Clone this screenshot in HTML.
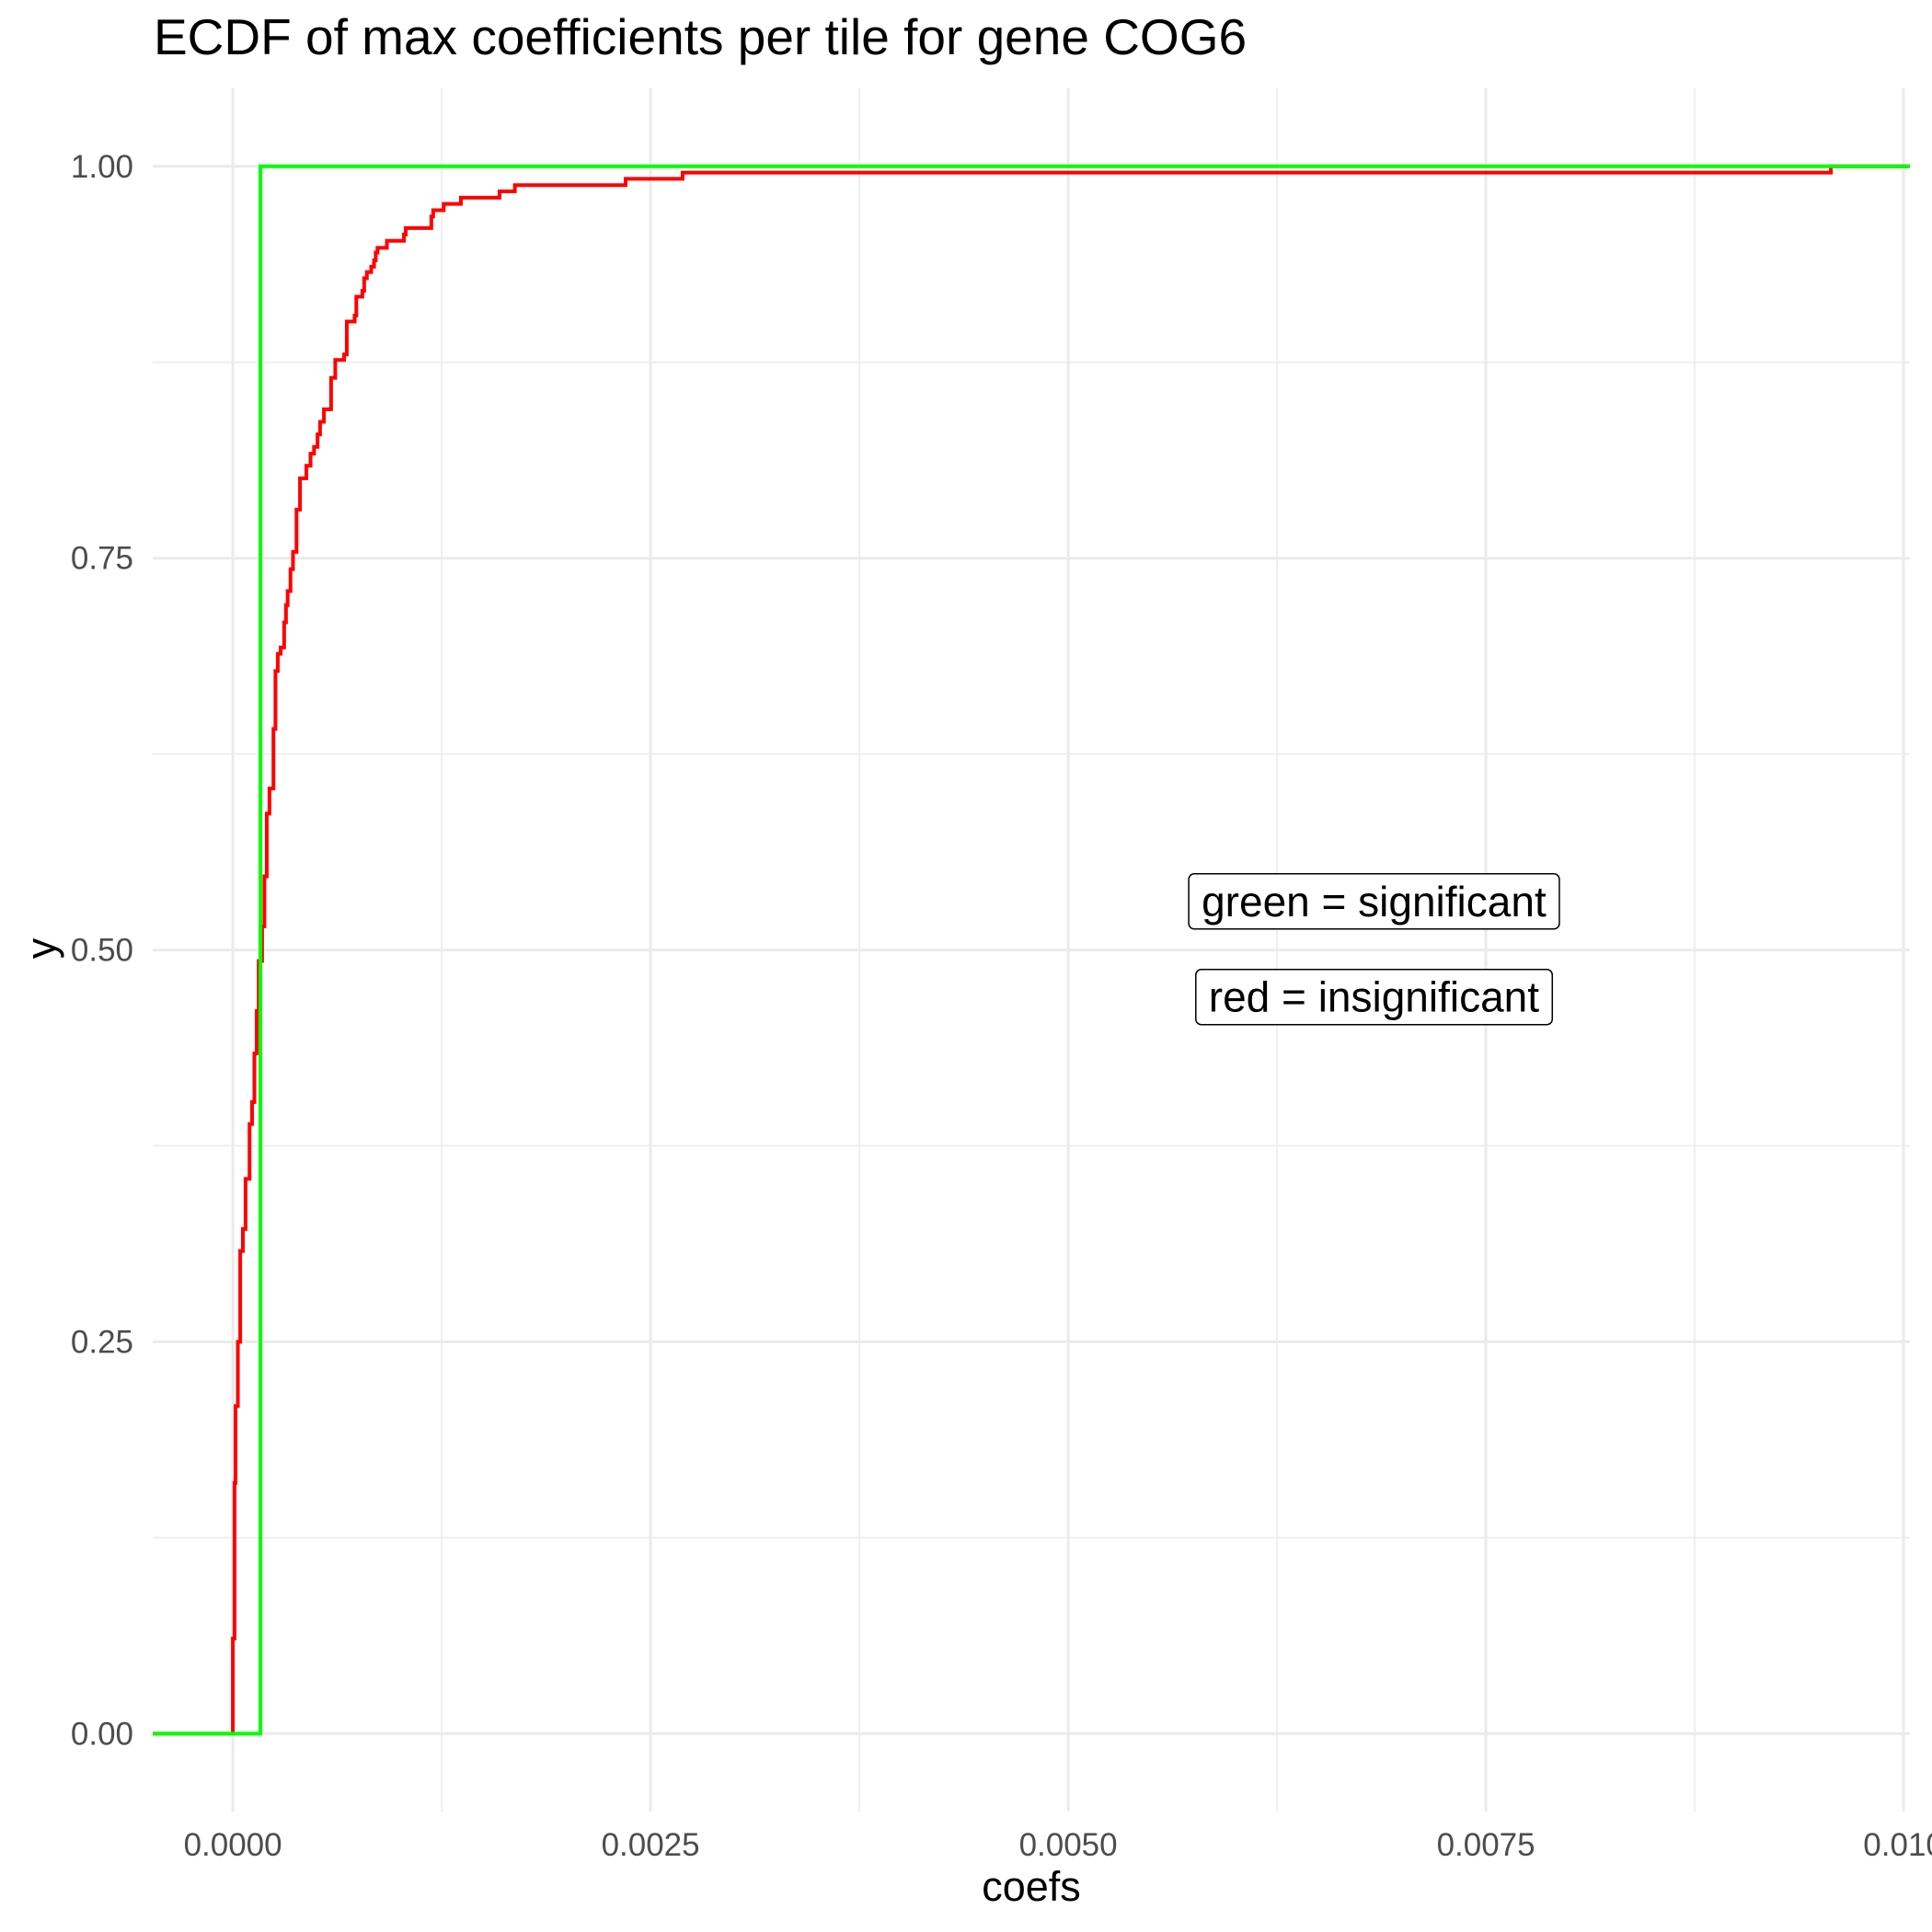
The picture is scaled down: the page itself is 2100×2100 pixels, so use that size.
<!DOCTYPE html>
<html><head><meta charset="utf-8"><style>
html,body{margin:0;padding:0;background:#fff;}
svg{display:block;font-family:"Liberation Sans",Arial,sans-serif;}
</style></head><body>
<svg id="chart" width="2100" height="2100" viewBox="0 0 2100 2100" xmlns="http://www.w3.org/2000/svg">
<rect width="2100" height="2100" fill="#fff"/>
<text x="167" y="59" font-size="55" fill="#000">ECDF of max coefficients per tile for gene COG6</text>
<g id="grid"></g>
<g id="series"></g>
<g id="labels"></g>
<text x="1121" y="2066" font-size="45" text-anchor="middle" fill="#000">coefs</text>
<text transform="translate(60,1031) rotate(-90)" font-size="45" text-anchor="middle" fill="#000">y</text>
</svg>
<script>
const xTicks=[0,0.0025,0.005,0.0075,0.01];
const xTickLabels=["0.0000","0.0025","0.0050","0.0075","0.010"];
const yTicks=[0,0.25,0.5,0.75,1];
const yTickLabels=["0.00","0.25","0.50","0.75","1.00"];
const redX=[0,1.0e-5,1.6e-5,3.0e-5,4.4e-5,6.0e-5,7.6e-5,1.0e-4,1.15e-4,1.29e-4,1.43e-4,1.55e-4,1.75e-4,1.89e-4,2.03e-4,2.19e-4,2.43e-4,2.55e-4,2.69e-4,2.86e-4,3.07e-4,3.18e-4,3.28e-4,3.45e-4,3.60e-4,3.81e-4,4.02e-4,4.40e-4,4.65e-4,4.86e-4,5.07e-4,5.22e-4,5.45e-4,5.88e-4,6.13e-4,6.66e-4,6.82e-4,7.29e-4,7.39e-4,7.75e-4,7.86e-4,8.02e-4,8.28e-4,8.45e-4,8.55e-4,8.66e-4,9.22e-4,1.024e-3,1.035e-3,1.188e-3,1.199e-3,1.262e-3,1.365e-3,1.596e-3,1.688e-3,2.351e-3,2.692e-3,9.565e-3];
const redY=[0.0607,0.16,0.209,0.25,0.308,0.322,0.354,0.389,0.403,0.434,0.461,0.493,0.515,0.547,0.587,0.603,0.641,0.678,0.689,0.693,0.709,0.720,0.729,0.743,0.754,0.781,0.801,0.809,0.8167,0.821,0.829,0.837,0.845,0.865,0.8765,0.880,0.901,0.9048,0.9168,0.9206,0.9286,0.9325,0.936,0.940,0.945,0.948,0.9525,0.9565,0.9606,0.968,0.972,0.976,0.980,0.984,0.988,0.992,0.996,1.0];
const greenX=[1.65e-4];
const greenY=[1.0];
const annotations=["green = significant","red = insignificant"];
const annX=[0.00683,0.00683];
const annY=[0.531,0.47];

const L=166,R=2076,T=96,B=1969;
const X0=253.1,XS=181600,Y0=1884.4,Y1=180.8;
const sx=v=>X0+v*XS;
const sy=v=>Y0-v*(Y0-Y1);
const NS="http://www.w3.org/2000/svg";
function mk(tag,attrs,parent){const e=document.createElementNS(NS,tag);for(const k in attrs)e.setAttribute(k,attrs[k]);parent.appendChild(e);return e;}
const grid=document.getElementById('grid');
for(let i=0;i<xTicks.length-1;i++){const m=(xTicks[i]+xTicks[i+1])/2;
 const l=mk('line',{x1:sx(m),x2:sx(m),y1:T,y2:B,stroke:'#ebebeb','stroke-width':1.5},grid);
 
 }
for(let i=0;i<yTicks.length-1;i++){const m=(yTicks[i]+yTicks[i+1])/2;
 const l=mk('line',{x1:L,x2:R,y1:sy(m),y2:sy(m),stroke:'#ebebeb','stroke-width':1.5},grid);
 
 }
xTicks.forEach((t,i)=>{
 const l=mk('line',{x1:sx(t),x2:sx(t),y1:T,y2:B,stroke:'#ebebeb','stroke-width':3},grid);
 
 
 const tx=mk('text',{x:sx(t),y:2017,'font-size':35,fill:'#4d4d4d','text-anchor':'middle'},grid);
 tx.textContent=xTickLabels[i];
 
 
});
yTicks.forEach((t,i)=>{
 const l=mk('line',{x1:L,x2:R,y1:sy(t),y2:sy(t),stroke:'#ebebeb','stroke-width':3},grid);
 
 
 const tx=mk('text',{x:145,y:sy(t)+12,'font-size':35,fill:'#4d4d4d','text-anchor':'end'},grid);
 tx.textContent=yTickLabels[i];
 
 
});
function stepPath(xs,ys){let d=`M${L},${sy(0)}`;
 for(let i=0;i<xs.length;i++){d+=` H${sx(xs[i])} V${sy(ys[i])}`;}
 d+=` H${R}`;return d;}
const ser=document.getElementById('series');
const red=mk('path',{d:stepPath(redX,redY),fill:'none',stroke:'#ff0000','stroke-width':4},ser);


const green=mk('path',{d:stepPath(greenX,greenY),fill:'none',stroke:'#00ff00','stroke-width':4},ser);


const lab=document.getElementById('labels');
annotations.forEach((s,i)=>{
 const g=mk('g',{},lab);
 
 
 const t=mk('text',{x:sx(annX[i]),y:sy(annY[i])+16,'font-size':46,'text-anchor':'middle',fill:'#000'},g);
 t.textContent=s;
 const bb=t.getBBox();
 const r=mk('rect',{x:bb.x-14,y:sy(annY[i])-30,width:bb.width+28,height:60,rx:6,fill:'#fff',stroke:'#000','stroke-width':1.5},g);
 g.insertBefore(r,t);
});
</script>
</body></html>
